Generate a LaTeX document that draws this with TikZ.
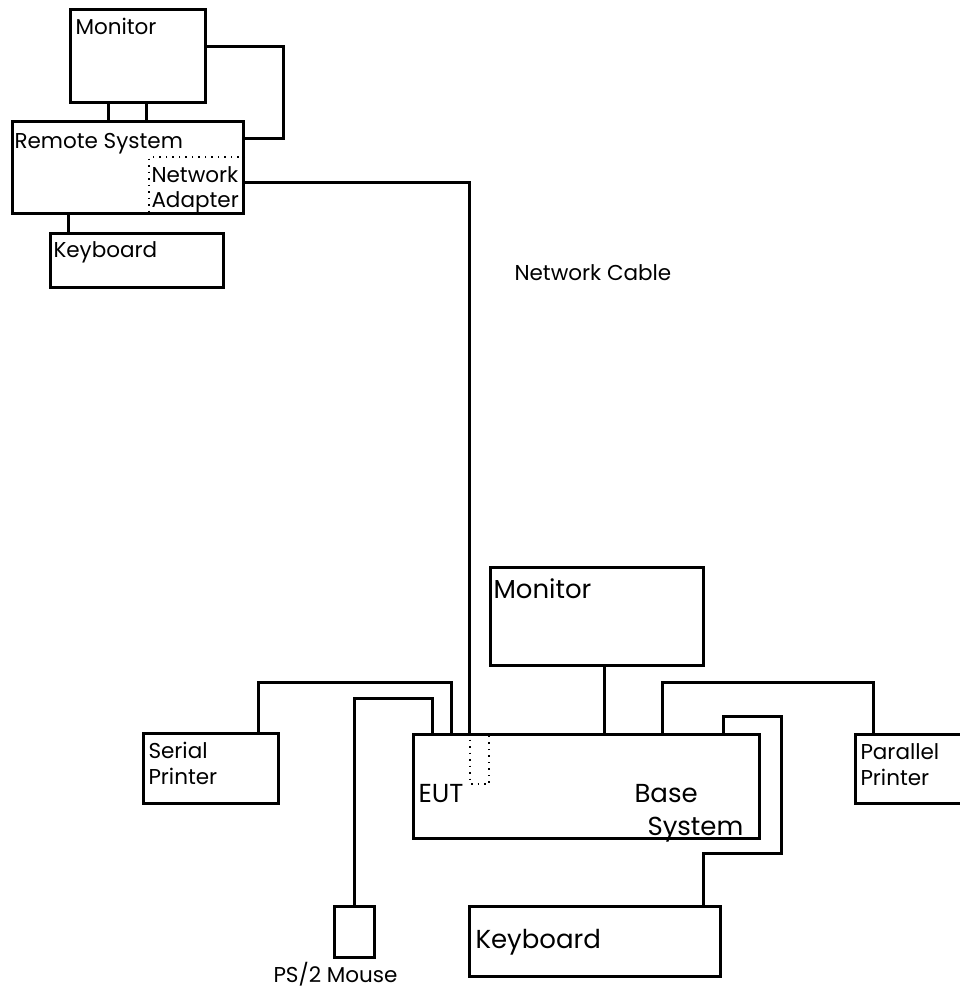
\documentclass[tikz,border=0pt]{standalone}
\usepackage{fontspec}
\setmainfont{Poppins}
\usetikzlibrary{calc}
\begin{document}
\begin{tikzpicture}[x=1pt,y=-1pt, line width=3pt, line join=miter,
  box/.style={draw, rectangle, inner sep=0pt, anchor=north west},
  lbl/.style={anchor=base west, inner sep=0pt, font=\fontsize{21.5}{24}\selectfont},
  biglbl/.style={anchor=base west, inner sep=0pt, font=\fontsize{26}{30}\selectfont},
  dot/.style={draw, line width=1.5pt, dash pattern=on 1.5pt off 5pt}]
\useasboundingbox (0,0) rectangle (960,990);
% boxes
\node[box, minimum width=135pt, minimum height=93pt] (mon1) at (69,8) {};
\node[box, minimum width=231pt, minimum height=92pt] (rs) at (11,120) {};
\node[box, minimum width=173pt, minimum height=54pt] (kb1) at (49,232) {};
\node[box, minimum width=213pt, minimum height=98pt] (mon2) at (489,566) {};
\node[box, minimum width=346pt, minimum height=104pt] (base) at (412,733) {};
\node[box, minimum width=135pt, minimum height=70pt] (sp) at (142,732) {};
\node[box, minimum width=112pt, minimum height=69pt] (pp) at (854,733) {};
\node[box, minimum width=40pt, minimum height=51pt] (mouse) at (333,905) {};
\node[box, minimum width=251pt, minimum height=70pt] (kb2) at (468,905) {};
% labels
\node[lbl] (t1) at (74,35) {Monitor};
\node[lbl] (t2) at (13,148) {Remote System};
\node[lbl] (t3) at (150,182) {Network};
\node[lbl] (t4) at (150,207) {Adapter};
\node[lbl] (t5) at (52,257) {Keyboard};
\node[lbl] (t6) at (513,280) {Network Cable};
\node[biglbl] (t7) at (492,598) {Monitor};
\node[lbl] (t8) at (147,758) {Serial};
\node[lbl] (t9) at (147,784) {Printer};
\node[biglbl] (t10) at (417,802) {EUT};
\node[biglbl] (t11) at (633,802) {Base};
\node[biglbl] (t12) at (646,835) {System};
\node[lbl] (t13) at (859,759) {Parallel};
\node[lbl] (t14) at (859,785) {Printer};
\node[biglbl] (t15) at (474,948) {Keyboard};
\node[lbl] (t16) at (272,982) {PS/2 Mouse};
% connectors (top)
\draw ($(mon1.south west)+(39,0)$) -- ($(rs.north west)+(97,0)$);
\draw ($(mon1.south west)+(77,0)$) -- ($(rs.north west)+(135,0)$);
\draw ($(mon1.north east)+(0,39)$) -- ++(76,0) |- ($(rs.north east)+(0,18)$);
\draw ($(rs.south west)+(57,0)$) -- ($(kb1.north west)+(19,0)$);
\draw[dot] ($(rs.north east)+(0,37)$) -| ($(rs.south east)+(-96,0)$);
\draw ($(rs.north east)+(0,62)$) -| ($(base.north west)+(57,0)$);
% connectors (bottom)
\draw[dot] ($(base.north west)+(58,0)$) |- ($(base.north west)+(77,51)$) -- ($(base.north west)+(77,0)$);
\draw ($(base.north west)+(39,0)$) -- ++(0,-51) -| ($(sp.north west)+(116,0)$);
\draw ($(base.north west)+(20,0)$) -- ++(0,-35) -| (mouse.north);
\draw ($(mon2.south west)+(115,0)$) -- ($(base.north west)+(192,0)$);
\draw ($(base.north west)+(250,0)$) -- ++(0,-51) -| ($(pp.north west)+(19,0)$);
\draw ($(base.north east)+(-38,0)$) -- ++(0,-17) -- ++(58,0) |- ($(kb2.north east)+(-19,-52)$) -- ($(kb2.north east)+(-19,0)$);
\end{tikzpicture}
\end{document}
